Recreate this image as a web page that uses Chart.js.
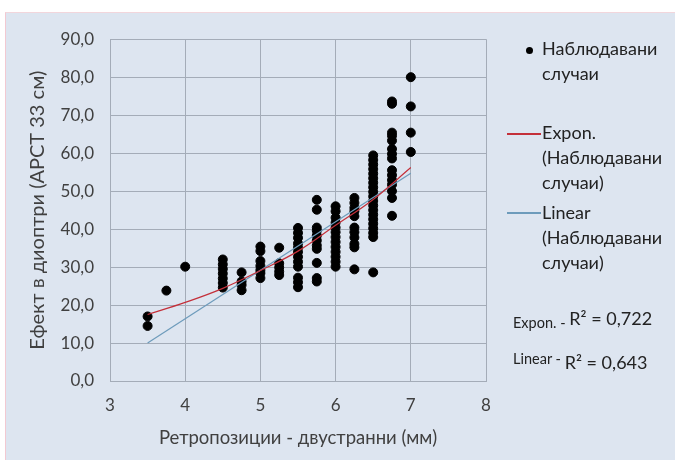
<!DOCTYPE html>
<html>
<head>
<meta charset="utf-8">
<script src="https://cdn.jsdelivr.net/npm/chart.js@4"></script>
<style>
  body { margin: 0; background: #fff; font-family: Lato, "Open Sans", sans-serif; }
  #panel { position: absolute; left: 5px; top: 12px; width: 670px; height: 448px;
           background: #dde5f0; border-left: 1px solid #f2c9d2; border-top: 1px solid #f2d6dc; }
  #chart { position: absolute; left: 0; top: 0; }
  .lg { position: absolute; color: #222; font-size: 18px; line-height: 25px; }
  .sw { position: absolute; height: 1.5px; width: 34px; }
  .dot { position: absolute; width: 7px; height: 7px; border-radius: 50%; background: #000; }
  .r2 { position: absolute; color: #222; white-space: nowrap; }
</style>
</head>
<body>
<div id="panel">
  <canvas id="chart" width="670" height="448"></canvas>
  <div id="legend"></div>
  <div class="r2" style="left:507px;top:294px;"><span style="font-size:14.5px;position:relative;top:3px">Expon. - </span><span style="font-size:18px">R² = 0,722</span></div>
  <div class="r2" style="left:507px;top:338px;"><span style="font-size:14.5px;position:relative;top:-5px">Linear - </span><span style="font-size:18px">R² = 0,643</span></div>
</div>
<script>
// observed cases, grouped by x column
const colX = [3.5, 3.75, 4, 4.5, 4.75, 5, 5.25, 5.5, 5.75, 6, 6.25, 6.5, 6.75, 7];
const colY = [
    [17.0, 14.5],
    [23.8],
    [30.1],
    [32.0, 30.7, 29.5, 28.3, 27.0, 25.8, 24.6],
    [28.6, 26.2, 25.3, 23.9],
    [35.4, 34.2, 31.6, 30.3, 29.2, 28.4, 27.1],
    [35.1, 31.0, 29.9, 28.8, 27.9],
    [40.3, 39.0, 37.7, 36.2, 35.1, 34.0, 32.7, 31.4, 30.1, 27.2, 26.0, 24.7],
    [47.7, 45.1, 40.4, 39.6, 38.3, 37.0, 35.7, 34.8, 31.1, 27.1, 26.2],
    [46.0, 44.7, 43.0, 41.7, 40.4, 39.2, 37.9, 36.6, 35.3, 34.0, 32.7, 31.4, 30.1],
    [48.2, 46.9, 45.6, 44.7, 43.4, 40.4, 39.2, 37.8, 36.1, 35.2, 29.4],
    [59.4, 58.2, 57.0, 55.8, 54.6, 53.4, 52.2, 51.0, 49.8, 48.6, 47.4, 46.2, 45.0, 43.8, 42.6, 41.4, 40.2, 39.0, 37.9, 28.6],
    [73.6, 73.0, 65.4, 64.6, 63.3, 61.1, 59.8, 58.6, 55.5, 54.2, 52.9, 51.7, 50.0, 48.2, 43.5],
    [80.0, 72.3, 65.4, 60.3]
];

// trend lines
const expX = [3.5, 4, 4.5, 5, 5.5, 6, 6.5, 7];
const expY = [17.5, 20.7, 24.4, 29.1, 34.2, 41.0, 47.8, 56.2];
const linX = [3.5, 7];
const linY = [10.0, 54.7];

const seriesNames = ['Наблюдавани случаи', 'Expon. (Наблюдавани случаи)', 'Linear (Наблюдавани случаи)'];

const obs = [];
colX.forEach((x, i) => colY[i].forEach(y => obs.push({ x: x, y: y })));
const toPts = (xs, ys) => xs.map((x, i) => ({ x: x, y: ys[i] }));

const fam = 'Lato, "Open Sans", sans-serif';
const tickFont = { family: fam, size: 17 };

const chart = new Chart(document.getElementById('chart').getContext('2d'), {
    type: 'scatter',
    data: {
        datasets: [
            {
                label: seriesNames[0],
                data: obs,
                backgroundColor: '#000',
                borderColor: '#000',
                pointRadius: 4.5,
                pointHoverRadius: 4.5,
                order: 1
            },
            {
                label: seriesNames[1],
                type: 'line',
                data: toPts(expX, expY),
                borderColor: '#c4303a',
                borderWidth: 1.2,
                pointRadius: 0,
                tension: 0.4,
                order: 0
            },
            {
                label: seriesNames[2],
                type: 'line',
                data: toPts(linX, linY),
                borderColor: '#6d9bbb',
                borderWidth: 1.2,
                pointRadius: 0,
                order: 0
            }
        ]
    },
    options: {
        responsive: false,
        animation: false,
        layout: { padding: { left: 20, top: 20, right: 190, bottom: 12 } },
        plugins: { legend: { display: false }, tooltip: { enabled: false } },
        scales: {
            x: {
                type: 'linear',
                min: 3, max: 8,
                ticks: { stepSize: 1, color: '#404040', font: tickFont, padding: 14 },
                grid: { color: '#a4acb8', drawTicks: false },
                border: { color: '#a4acb8' },
                title: { display: true, text: 'Ретропозиции - двустранни (мм)', color: '#404040', font: { family: fam, size: 18.5 }, padding: 0 },
                afterFit: s => { s.height = 68; }
            },
            y: {
                min: 0, max: 90,
                ticks: {
                    stepSize: 10, color: '#404040', font: tickFont, padding: 16,
                    callback: v => v.toFixed(1).replace('.', ',')
                },
                grid: { color: '#a4acb8', drawTicks: false },
                border: { color: '#a4acb8' },
                title: { display: true, text: 'Ефект в диоптри (АРСТ 33 см)', color: '#404040', font: { family: fam, size: 20 }, padding: 0 },
                afterFit: s => { s.width = 84; }
            }
        }
    }
});

// legend on the right, built from the datasets
const lg = document.getElementById('legend');
const ds = chart.data.datasets;
lg.innerHTML =
    '<div class="dot" style="left:520px;top:34px"></div>' +
    '<div class="lg" style="left:536px;top:23px">Наблюдавани<br>случаи</div>' +
    '<div class="sw" style="left:501px;top:120px;background:' + ds[1].borderColor + '"></div>' +
    '<div class="lg" style="left:536px;top:107px">Expon.<br>(Наблюдавани<br>случаи)</div>' +
    '<div class="sw" style="left:501px;top:199px;background:' + ds[2].borderColor + '"></div>' +
    '<div class="lg" style="left:536px;top:187px">Linear<br>(Наблюдавани<br>случаи)</div>';
</script>
</body>
</html>
